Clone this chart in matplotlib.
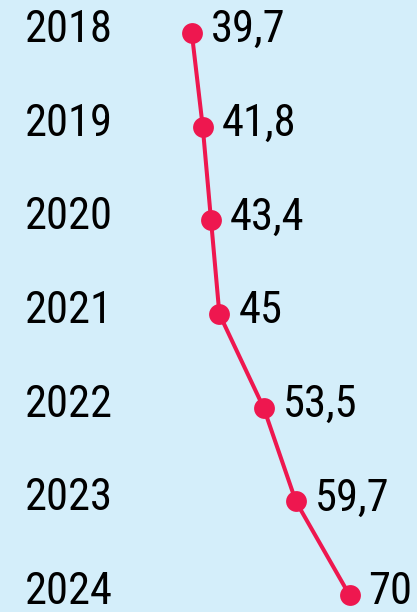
import matplotlib
matplotlib.use("Agg")
import matplotlib.pyplot as plt
from matplotlib.transforms import blended_transform_factory, offset_copy

years = [2018, 2019, 2020, 2021, 2022, 2023, 2024]
values = [39.7, 41.8, 43.4, 45, 53.5, 59.7, 70]
value_labels = ["39,7", "41,8", "43,4", "45", "53,5", "59,7", "70"]

bg = "#d4eefa"
red = "#ee174f"
family = ["Roboto Condensed", "Archivo Narrow", "DejaVu Sans"]

fig = plt.figure(figsize=(4.17, 6.12), dpi=100)
fig.patch.set_facecolor(bg)
ax = fig.add_axes([0, 0, 1, 1])
ax.set_facecolor(bg)

ax.plot(values, years, color=red, linewidth=2.9, marker="o",
        markersize=15, markeredgewidth=0, zorder=3)

ax.set_xlim(2.86, 82.96)
ax.set_ylim(2024.18, 2017.648)
ax.axis("off")

# year labels down the left side
trans = blended_transform_factory(fig.transFigure, ax.transData)
year_trans = offset_copy(trans, fig=fig, x=0, y=3, units="dots")
for y in years:
    ax.text(25 / 417, y, str(y), transform=year_trans, fontsize=32,
            family=family, ha="left", va="center", color="black")

# value labels to the right of each point
val_trans = offset_copy(ax.transData, fig=fig, x=19, y=3, units="dots")
for v, y, lab in zip(values, years, value_labels):
    ax.text(v, y, lab, transform=val_trans, fontsize=32,
            family=family, ha="left", va="center", color="black")

fig.savefig("out.png", dpi=100, facecolor=bg)
